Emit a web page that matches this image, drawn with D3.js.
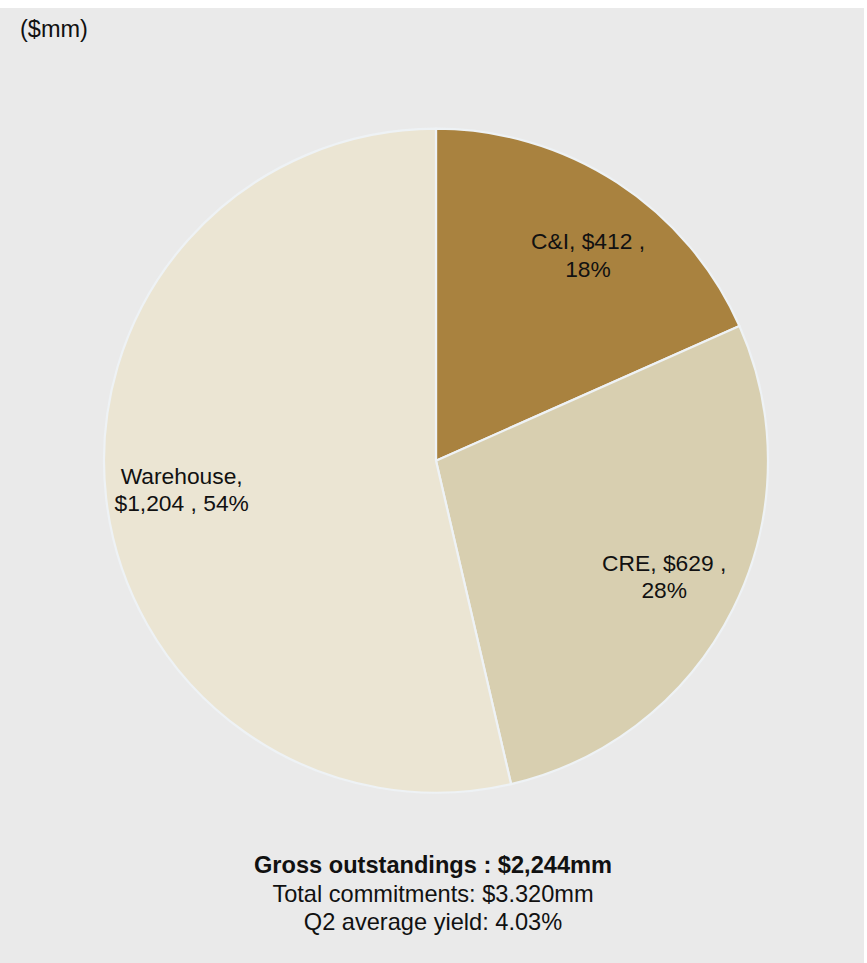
<!DOCTYPE html>
<html>
<head>
<meta charset="utf-8">
<script src="https://cdn.jsdelivr.net/npm/d3@7"></script>
<style>
  html, body { margin: 0; padding: 0; background: #ffffff; }
  svg { display: block; }
  text { font-family: "Liberation Sans", Arial, sans-serif; fill: #111; }
</style>
</head>
<body>
<script>
// Loan portfolio composition ($mm)
const categories = ["C&I", "CRE", "Warehouse"];
const balances = [412, 629, 1204];
const shares = ["18%", "28%", "54%"];
const labelLines = [
  ["C&I, $412 ,", "18%"],
  ["CRE, $629 ,", "28%"],
  ["Warehouse,", "$1,204 , 54%"]
];
const summaryLines = [
  "Gross outstandings : $2,244mm",
  "Total commitments: $3.320mm",
  "Q2 average yield: 4.03%"
];
const unitLabel = "($mm)";

const W = 867, H = 963;
const cx = 436, cy = 460.7, R = 332;

const svg = d3.select("body").append("svg")
  .attr("width", W).attr("height", H);

// panel background
svg.append("rect")
  .attr("x", 0).attr("y", 8)
  .attr("width", 864).attr("height", H - 8)
  .attr("fill", "#eaeaea");

svg.append("text")
  .attr("x", 20).attr("y", 37)
  .style("font-size", "23.5px")
  .text(unitLabel);

const color = d3.scaleOrdinal()
  .domain(categories)
  .range(["#a9823f", "#d8cfb0", "#ebe5d3"]);

const slices = categories.map((c, i) => ({ name: c, value: balances[i], share: shares[i], lines: labelLines[i] }));

const pie = d3.pie().value(d => d.value).sort(null);
const arcs = pie(slices);

const arc = d3.arc().innerRadius(0).outerRadius(R);
const labelArc = d3.arc().innerRadius(255).outerRadius(255);

const g = svg.append("g").attr("transform", `translate(${cx},${cy})`);

g.selectAll("path.slice")
  .data(arcs)
  .join("path")
  .attr("class", "slice")
  .attr("d", arc)
  .attr("fill", d => color(d.data.name))
  .attr("stroke", "#eef2f5")
  .attr("stroke-width", 2.2)
  .attr("stroke-linejoin", "round");

// label nudges, in px, for best-fit placement inside each slice
const nudge = { "C&I": [13, 8], "CRE": [0, 2], "Warehouse": [-1, 0] };
const lineH = 27.5;

arcs.forEach(d => {
  const [x, y] = labelArc.centroid(d);
  const [nx, ny] = nudge[d.data.name];
  const n = d.data.lines.length;
  const t = g.append("text")
    .attr("text-anchor", "middle")
    .style("font-size", "22.8px");
  d.data.lines.forEach((line, k) => {
    t.append("tspan")
      .attr("x", x + nx)
      .attr("y", y + ny + 8 + (k - (n - 1) / 2) * lineH)
      .text(line);
  });
});

// summary block under the pie
const summary = svg.append("text")
  .attr("text-anchor", "middle")
  .style("font-size", "23.6px");
summaryLines.forEach((line, k) => {
  summary.append("tspan")
    .attr("x", 433)
    .attr("y", 873 + k * 28.5)
    .style("font-weight", k === 0 ? "bold" : "normal")
    .text(line);
});
</script>
</body>
</html>
